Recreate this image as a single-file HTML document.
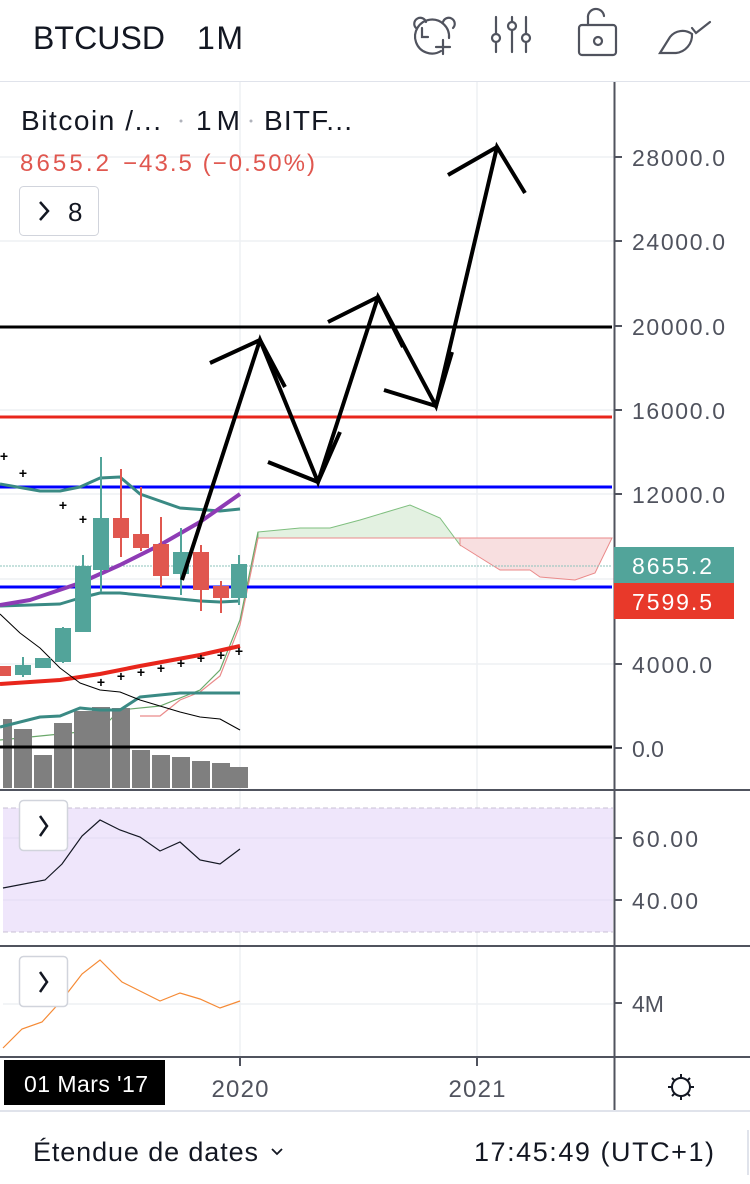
<!DOCTYPE html>
<html><head><meta charset="utf-8"><style>
body{margin:0;width:750px;height:1184px;overflow:hidden;background:#fff;font-family:"Liberation Sans",sans-serif}
svg{display:block}
</style></head><body>
<svg width="750" height="1184" viewBox="0 0 750 1184" font-family="Liberation Sans, sans-serif">
<!-- header -->
<text x="33" y="49" font-size="32" fill="#131722" textLength="132">BTCUSD</text>
<text x="197" y="49" font-size="32" fill="#131722" textLength="46">1M</text>
<g stroke="#50535e" stroke-width="2.2" fill="none" stroke-linecap="round">
 <path d="M416 28 a6 6 0 1 1 10 -6 M443 22 a6 6 0 1 1 10 6"/>
 <path d="M441 51 A17 17 0 1 1 449 38"/><path d="M422 28 v9 h6"/><path d="M436 47 h14 M443 40 v14"/>
 <path d="M496 17 v17 M496 42 v10 M512 17 v4 M512 30 v22 M526 17 v17 M526 42 v10"/>
 <circle cx="496" cy="38" r="4"/><circle cx="512" cy="26" r="4"/><circle cx="526" cy="38" r="4"/>
 <rect x="579" y="25" width="37" height="30" rx="3"/><path d="M588 25 v-7 a8 8 0 0 1 16 -2"/><circle cx="598" cy="41" r="4"/>
 <path d="M660 53 l10 -16 a16 16 0 0 1 22 -3 a18 18 0 0 1 -16 19 z M692 28 l4 5 l14 -11"/>
</g>
<line x1="0" y1="81.5" x2="750" y2="81.5" stroke="#e0e3eb"/>
<!-- grid -->
<g stroke="#eef0f4" stroke-width="1.5">
 <line x1="240" y1="82" x2="240" y2="1056"/><line x1="477" y1="82" x2="477" y2="1056"/>
 <line x1="0" y1="157" x2="614" y2="157"/><line x1="0" y1="241" x2="614" y2="241"/><line x1="0" y1="410" x2="614" y2="410"/>
 <line x1="0" y1="494" x2="614" y2="494"/><line x1="0" y1="579" x2="614" y2="579"/><line x1="0" y1="664" x2="614" y2="664"/>
</g>
<!-- legend -->
<text x="21" y="130" font-size="28" fill="#131722" textLength="140">Bitcoin /...</text>
<circle cx="181" cy="121" r="1.5" fill="#b0b3bb"/>
<text x="196" y="130" font-size="28" fill="#131722" textLength="44">1M</text>
<circle cx="251" cy="121" r="1.5" fill="#b0b3bb"/>
<text x="264" y="130" font-size="28" fill="#131722" textLength="88">BITF...</text>
<text x="20" y="171" font-size="24" fill="#e0574f" textLength="89">8655.2</text>
<text x="123" y="171" font-size="24" fill="#e0574f" textLength="192">−43.5 (−0.50%)</text>
<rect x="19.5" y="186.5" width="79" height="49" rx="4" fill="#fff" stroke="#d1d4dc"/>
<path d="M40 202 l8 9 l-8 9" stroke="#131722" stroke-width="2.5" fill="none"/>
<text x="68" y="221" font-size="26" fill="#131722">8</text>
<!-- cloud -->
<path d="M258 532 L300 528 L330 528 L360 520 L410 505 L440 518 L460 545 L460 538 L258 538 Z" fill="#e3f1e1" stroke="#7fbf7f" stroke-width="1"/>
<path d="M460 545 L500 570 L530 570 L540 577 L575 580 L595 573 L612 538 L460 538 Z" fill="#f8dfe0" stroke="#ea8a8a" stroke-width="1"/>
<line x1="258" y1="538" x2="612" y2="538" stroke="#ea8a8a" stroke-width="1"/>
<path d="M140 716 L160 716 L180 700 L200 692 L220 676 L240 625 L258 538" fill="none" stroke="#ea8a8a" stroke-width="1.2"/>
<path d="M0 740 L80 732 L100 730 L120 710 L160 706 L200 690 L220 670 L240 620 L258 532" fill="none" stroke="#6aa86a" stroke-width="1.2"/>
<!-- volume bars -->
<g fill="#7f7f7f">
<rect x="3" y="719" width="9" height="69"/><rect x="14" y="729" width="18" height="59"/><rect x="34" y="755" width="18" height="33"/>
<rect x="54" y="723" width="18" height="65"/><rect x="74" y="711" width="18" height="77"/><rect x="92" y="707" width="18" height="81"/>
<rect x="112" y="708" width="18" height="80"/><rect x="132" y="750" width="18" height="38"/><rect x="152" y="755" width="18" height="33"/>
<rect x="172" y="757" width="18" height="31"/><rect x="192" y="761" width="18" height="27"/><rect x="212" y="763" width="18" height="25"/><rect x="230" y="767" width="18" height="21"/>
</g>
<!-- horizontal lines -->
<line x1="0" y1="327" x2="612" y2="327" stroke="#000" stroke-width="3"/>
<line x1="0" y1="747" x2="612" y2="747" stroke="#000" stroke-width="3"/>
<line x1="0" y1="417" x2="612" y2="417" stroke="#e8261c" stroke-width="3"/>
<line x1="0" y1="487" x2="612" y2="487" stroke="#0000ff" stroke-width="3"/>
<line x1="0" y1="587" x2="612" y2="587" stroke="#0000ff" stroke-width="3"/>
<line x1="0" y1="566" x2="612" y2="566" stroke="#8cc3bb" stroke-width="1" stroke-dasharray="2,1"/>
<!-- indicator lines -->
<g fill="none" stroke-linejoin="round">
<path d="M0 484 L40 491 L60 491 L80 487 L100 478 L120 477 L140 494 L180 508 L220 511 L240 509" stroke="#3a8a84" stroke-width="3"/>
<path d="M0 606 L60 604 L80 598 L100 593 L120 593 L180 599 L200 601 L220 602 L240 601" stroke="#3a8a84" stroke-width="3"/>
<path d="M0 727 L40 717 L60 716 L80 708 L100 710 L120 710 L140 697 L180 693 L240 693" stroke="#3a8a84" stroke-width="3"/>
<path d="M0 605 L30 600 L80 583 L120 565 L160 545 L200 522 L240 494" stroke="#8e3bb5" stroke-width="4"/>
<path d="M0 684 L60 680 L100 674 L140 666 L200 655 L240 646" stroke="#e8261c" stroke-width="4"/>
<path d="M0 614 L20 633 L40 648 L60 668 L80 683 L100 690 L120 692 L140 700 L160 706 L180 712 L200 717 L220 719 L240 730" stroke="#000" stroke-width="1"/>
</g>
<g font-size="14" font-weight="bold" fill="#000" text-anchor="middle">
<text x="4" y="461">+</text><text x="23" y="478">+</text><text x="63" y="510">+</text><text x="83" y="524">+</text>
<text x="101" y="687">+</text><text x="121" y="681">+</text><text x="141" y="677">+</text><text x="161" y="673">+</text>
<text x="181" y="668">+</text><text x="201" y="663">+</text><text x="221" y="660">+</text><text x="239" y="656">+</text>
</g>
<!-- candles -->
<g stroke-width="2">
<g fill="#e0574f" stroke="#e0574f">
<rect x="0" y="667" width="10" height="8"/>
<line x1="121" y1="469" x2="121" y2="557"/><rect x="114" y="519" width="14" height="18"/>
<line x1="141" y1="487" x2="141" y2="551"/><rect x="134" y="535" width="14" height="12"/>
<line x1="161" y1="517" x2="161" y2="587"/><rect x="154" y="545" width="14" height="30"/>
<line x1="201" y1="545" x2="201" y2="611"/><rect x="194" y="553" width="14" height="36"/>
<line x1="221" y1="581" x2="221" y2="613"/><rect x="214" y="587" width="14" height="10"/>
</g>
<g fill="#52a49a" stroke="#52a49a">
<line x1="23" y1="657" x2="23" y2="677"/><rect x="16" y="666" width="14" height="8"/>
<rect x="36" y="659" width="14" height="8"/>
<line x1="63" y1="627" x2="63" y2="663"/><rect x="56" y="629" width="14" height="32"/>
<line x1="83" y1="555" x2="83" y2="631"/><rect x="76" y="567" width="14" height="64"/>
<line x1="101" y1="457" x2="101" y2="592"/><rect x="94" y="519" width="14" height="50"/>
<line x1="181" y1="528" x2="181" y2="595"/><rect x="174" y="553" width="14" height="20"/>
<line x1="239" y1="555" x2="239" y2="605"/><rect x="232" y="565" width="14" height="32"/>
</g>
</g>
<!-- drawing -->
<g stroke="#000" stroke-width="4" fill="none" stroke-linejoin="miter">
<path d="M182 580 L260 340 L318 482 L378 297 L436 406 L497 147 L525 193"/>
<path d="M210 363 L260 340 L285 387"/>
<path d="M268 462 L318 482 L340 432"/>
<path d="M328 322 L378 297 L403 347"/>
<path d="M384 390 L436 406 L452 352"/>
<path d="M448 175 L497 147"/>
</g>
<!-- RSI pane -->
<line x1="0" y1="790" x2="750" y2="790" stroke="#50535e" stroke-width="2"/>
<rect x="3" y="808" width="610" height="124" fill="#efe6fb"/>
<line x1="3" y1="808" x2="613" y2="808" stroke="#c8c0d4" stroke-dasharray="5,3"/>
<line x1="3" y1="932" x2="613" y2="932" stroke="#c8c0d4" stroke-dasharray="5,3"/>
<line x1="3" y1="838" x2="613" y2="838" stroke="#e3dcf3"/><line x1="3" y1="900" x2="613" y2="900" stroke="#e3dcf3"/>
<path d="M3 888 L45 880 L62 864 L82 836 L100 820 L120 830 L140 837 L160 851 L180 842 L200 860 L220 864 L240 849" fill="none" stroke="#131722" stroke-width="1.2"/>
<rect x="19.5" y="800.5" width="48" height="50" rx="4" fill="#fff" stroke="#d1d4dc" stroke-width="1.5"/>
<path d="M40 816 l7 10 l-7 10" stroke="#131722" stroke-width="2.5" fill="none"/>
<!-- volume MA pane -->
<line x1="0" y1="946" x2="750" y2="946" stroke="#50535e" stroke-width="2"/>
<line x1="3" y1="1004" x2="613" y2="1004" stroke="#eef0f4" stroke-width="1.5"/>
<path d="M3 1048 L22 1029 L42 1022 L62 1000 L82 974 L100 960 L122 982 L140 991 L160 1001 L180 993 L200 999 L220 1008 L240 1001" fill="none" stroke="#f58a35" stroke-width="1.2"/>
<rect x="19.5" y="956.5" width="48" height="50" rx="4" fill="#fff" stroke="#d1d4dc" stroke-width="1.5"/>
<path d="M40 972 l7 10 l-7 10" stroke="#131722" stroke-width="2.5" fill="none"/>
<line x1="0" y1="1057" x2="750" y2="1057" stroke="#50535e" stroke-width="2"/>
<!-- price axis -->
<line x1="614.5" y1="82" x2="614.5" y2="1110" stroke="#50535e" stroke-width="2"/>
<g stroke="#50535e" stroke-width="2">
<line x1="615" y1="157" x2="622" y2="157"/><line x1="615" y1="241" x2="622" y2="241"/><line x1="615" y1="326" x2="622" y2="326"/>
<line x1="615" y1="410" x2="622" y2="410"/><line x1="615" y1="494" x2="622" y2="494"/><line x1="615" y1="664" x2="622" y2="664"/>
<line x1="615" y1="748" x2="622" y2="748"/><line x1="615" y1="838" x2="622" y2="838"/><line x1="615" y1="900" x2="622" y2="900"/>
<line x1="615" y1="1003" x2="622" y2="1003"/><line x1="240" y1="1057" x2="240" y2="1066"/><line x1="477" y1="1057" x2="477" y2="1066"/>
</g>
<g font-size="23" fill="#50535e">
<text x="632" y="166" textLength="93">28000.0</text><text x="632" y="250" textLength="93">24000.0</text><text x="632" y="335" textLength="93">20000.0</text>
<text x="632" y="419" textLength="93">16000.0</text><text x="632" y="503" textLength="93">12000.0</text><text x="632" y="673" textLength="80">4000.0</text>
<text x="632" y="757">0.0</text><text x="632" y="847" textLength="66">60.00</text><text x="632" y="909" textLength="66">40.00</text><text x="632" y="1012">4M</text>
</g>
<rect x="614" y="547" width="120" height="36" fill="#52a49a"/>
<rect x="614" y="583" width="120" height="36" fill="#e8392a"/>
<text x="632" y="574" font-size="23" fill="#fff" textLength="80">8655.2</text>
<text x="632" y="610" font-size="23" fill="#fff" textLength="80">7599.5</text>
<!-- time axis -->
<text x="240" y="1097" font-size="24" fill="#50535e" text-anchor="middle" textLength="57">2020</text>
<text x="477" y="1097" font-size="24" fill="#50535e" text-anchor="middle" textLength="57">2021</text>
<rect x="4" y="1060" width="161" height="45" fill="#000"/>
<text x="24" y="1092" font-size="23" fill="#fff" textLength="124">01 Mars '17</text>
<g stroke="#131722" stroke-width="2" fill="none">
<circle cx="681" cy="1087" r="9"/>
<path d="M681 1074 v4 M681 1096 v4 M668 1087 h4 M690 1087 h4 M672 1078 l2 2 M690 1078 l-2 2 M672 1096 l2 -2 M690 1096 l-2 -2"/>
</g>
<line x1="0" y1="1111" x2="750" y2="1111" stroke="#e0e3eb" stroke-width="2"/>
<text x="33" y="1161" font-size="27" fill="#131722" textLength="225">Étendue de dates</text>
<path d="M272 1149 l5 5 l5 -5" stroke="#131722" stroke-width="1.8" fill="none"/>
<text x="474" y="1161" font-size="27" fill="#131722" textLength="240">17:45:49 (UTC+1)</text>
<line x1="748" y1="1130" x2="748" y2="1175" stroke="#e0e3eb" stroke-width="2"/>
</svg>
</body></html>
